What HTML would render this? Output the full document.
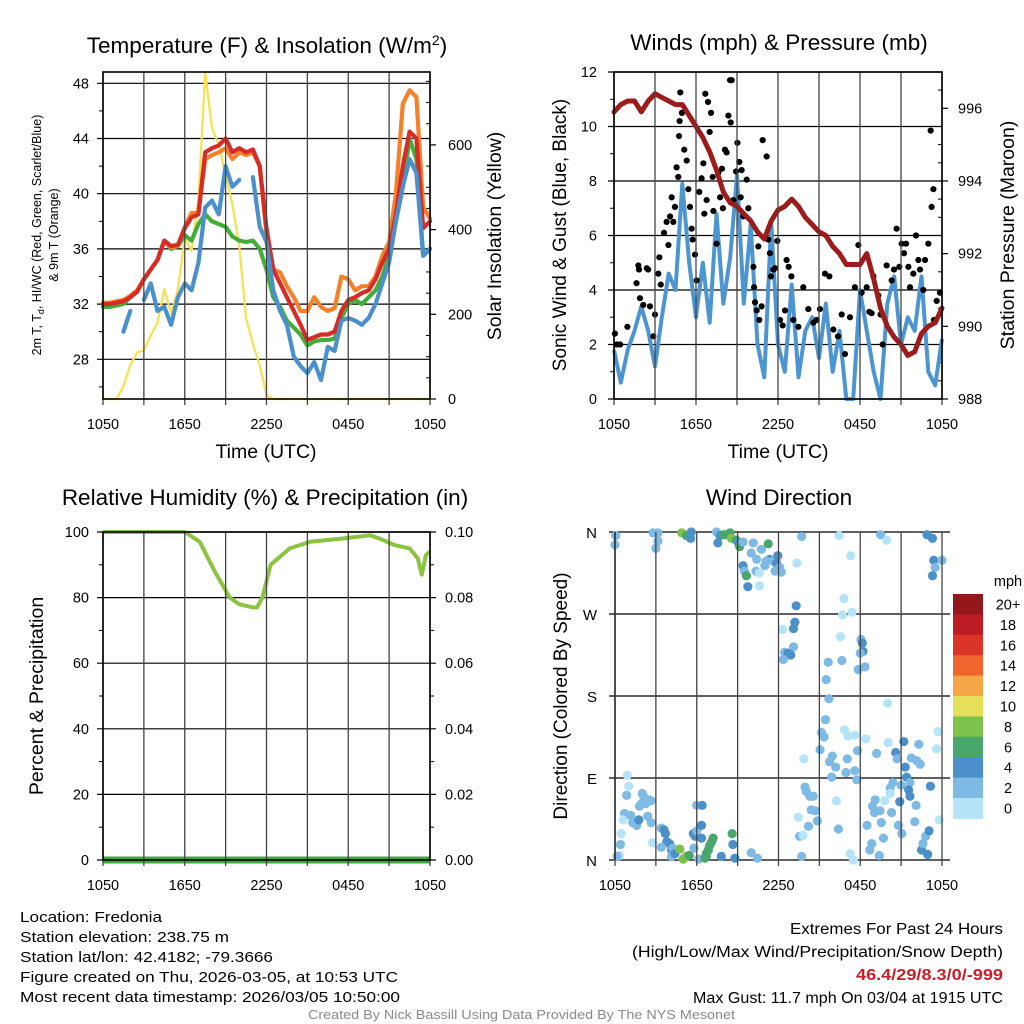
<!DOCTYPE html>
<html><head><meta charset="utf-8">
<style>
html,body{margin:0;padding:0;background:#fff;}
svg{display:block;font-family:"Liberation Sans",Arial,sans-serif;}
</style></head>
<body>
<svg id="chart" width="1024" height="1024" viewBox="0 0 1024 1024" xmlns="http://www.w3.org/2000/svg">
<rect width="1024" height="1024" fill="#fff"/>
</svg>
<script>
// ---------- DATA ----------
const hours = [0,0.5,1,1.5,2,2.5,3,3.5,4,4.5,5,5.5,6,6.5,7,7.5,8,8.5,9,9.5,10,10.5,11,11.5,12,12.5,13,13.5,14,14.5,15,15.5,16,16.5,17,17.5,18,18.5,19,19.5,20,20.5,21,21.5,22,22.5,23,23.5,24];
const timeTickLabels = ["1050","1650","2250","0450","1050"];
const tempT2m = [32,32,32.1,32.2,32.5,32.9,33.8,34.5,35.2,36.6,36.2,36.3,37.5,38.3,38.5,43,43.3,43.5,44,43,43.3,43,43.2,42,37.5,34.5,33.5,32.5,31.5,30.5,29.4,29.6,29.8,29.8,30,31.5,32.3,32.5,32.8,33,33.8,35,36,38.5,42,44.5,44,37.5,38];
const temp9m = [32.1,32.1,32.2,32.3,32.6,33,33.8,34.5,35.2,36.6,36.1,36.2,37.6,38.6,38.6,42.5,42.8,43,43.3,42.5,43,42.8,43,42,37,34.5,34.3,33.3,32.5,31.5,31.5,32.5,31.8,31.5,31.7,34,33.8,33,33.3,33.3,34,35.5,36.5,40,46.5,47.5,47,39,38.2];
const tempTd = [31.8,31.8,31.9,32,32.5,32.9,33.8,34.5,35.2,36.6,36,36.2,37,36.6,37.8,38.5,38,37.8,37.6,36.9,36.6,36.5,36.6,36,34.5,32.5,31.8,30.8,30.3,29.8,29,29.3,29.4,29.4,29.5,31,32,32.3,32,32.5,33,34,35.5,38,40.5,44,42.5,35.5,36];
const tempWC = [null,null,null,30,31.5,null,32.3,33.5,31.5,31.8,30.5,32.5,33.5,33,35,39,39.5,38.5,42,40.5,41,null,41.2,37.6,36.5,33,31.5,30.5,28.2,27.5,27,27.8,26.5,28.9,28.6,30.8,31,30.8,30.5,31,32,33.5,35,38,40.5,42.5,41.5,35.5,36];
const insolation = [0,0,0,30,80,110,115,150,180,260,200,260,380,350,470,770,640,600,530,460,360,190,130,80,10,0,0,0,0,0,0,0,0,0,0,0,0,0,0,0,0,0,0,0,0,0,0,0,0];
const windSpeed = [1.8,0.6,1.8,2.5,3.4,2.5,1.2,3.0,4.6,4.0,7.9,5.0,3.0,5.0,2.8,6.8,3.5,5.2,8.2,3.5,6.4,2.0,0.8,6.5,2.0,1.0,4.2,0.8,2.5,3.0,1.5,3.5,1.0,2.5,0.0,0.0,4.0,2.5,1.0,0.0,3.5,4.5,2.0,3.0,2.5,4.5,1.0,0.5,2.2];
const pressure = [995.9,996.1,996.2,996.2,995.9,996.2,996.4,996.3,996.2,996.1,996.1,995.8,995.5,995.2,994.8,994.3,993.7,993.4,993.3,993.1,992.9,992.6,992.4,992.9,993.2,993.3,993.5,993.3,993.0,992.8,992.6,992.5,992.2,992.0,991.7,991.7,991.7,992.0,991.3,990.5,990.0,989.7,989.5,989.2,989.3,989.8,990.0,990.1,990.5];
const rhHours = [0,5,6,7.1,8.2,9.3,10,11,11.3,11.7,12.3,13.7,15.2,17.5,19.6,20.3,21.4,22.5,23.1,23.4,23.7,24];
const rhValues = [100,100,100,97,88,80,78,77,77,80,90,95,97,98,99,98,96,95,92,87,93,94];
const precipValues = [0,0];
const gustHours = [0.07,0.2,0.45,0.98,1.65,1.83,1.9,1.78,2.4,2.63,2.5,2.14,2.88,3.0,3.24,3.32,3.42,3.66,3.85,3.98,4.1,4.22,4.34,4.46,4.58,4.7,4.76,4.8,4.85,4.97,5.14,5.32,5.44,5.56,5.68,5.75,5.93,6.05,6.24,6.41,6.54,6.61,6.68,6.78,6.88,7.0,7.1,7.22,7.27,7.51,7.63,7.76,7.9,7.97,8.12,8.24,8.37,8.49,8.54,8.61,8.73,8.93,9.03,9.17,9.27,9.34,9.46,9.71,9.83,10.2,10.25,10.32,10.44,10.56,10.63,10.8,10.88,11.17,11.29,11.41,11.49,11.66,11.78,11.95,12.15,12.34,12.51,12.63,12.78,12.98,13.12,13.49,13.85,14.22,14.59,14.83,15.07,15.44,15.76,16.05,16.39,16.66,16.9,17.27,17.63,17.88,18.12,18.49,18.68,18.85,18.98,19.34,19.51,19.66,19.95,20.32,20.49,20.68,20.88,21.05,21.22,21.37,21.54,21.66,21.9,22.1,22.27,22.39,22.63,22.76,23.0,23.17,23.24,23.37,23.41,23.61,23.85,23.98];
const gustValues = [2.4,2.0,2.0,2.65,4.25,4.75,3.7,4.9,4.8,3.4,4.75,3.45,2.3,3.1,4.6,5.2,4.2,6.1,6.5,5.65,6.7,7.4,6.5,7.05,8.5,8.15,9.65,10.2,11.25,10.5,9.15,8.75,7.7,7.05,6.25,5.85,5.3,4.35,7.6,8.1,8.65,6.8,11.2,7.3,10.9,9.8,10.5,8.15,6.9,5.7,8.3,7.4,8.45,7.0,9.15,9.05,10.4,11.7,10.15,11.7,7.3,8.35,9.4,8.7,7.4,8.4,6.7,8.05,7.0,4.85,4.1,3.55,3.25,5.6,2.9,3.4,9.5,8.9,5.85,5.35,4.5,4.75,4.8,5.8,2.9,2.7,3.25,5.1,4.85,4.5,2.9,2.65,4.1,3.3,2.8,2.9,3.3,4.6,4.5,2.55,2.3,3.1,1.65,3.0,4.1,5.65,3.9,4.1,3.2,3.15,4.5,3.8,3.1,2.0,4.9,4.35,4.75,6.25,4.85,5.7,5.35,5.7,4.85,4.1,4.6,6.0,5.1,4.75,4.0,5.1,5.7,9.85,7.05,7.7,2.9,3.6,3.9];
const dirHours = [0.05,0,2.8,3.15,3.15,3.0,4.9,5.25,5.55,5.6,7.45,7.55,7.7,7.95,8.2,8.45,8.55,8.9,9.05,9.15,9.4,10.15,10.0,10.4,10.75,11.25,11.35,11.6,11.95,11.85,11.0,11.1,12.1,11.75,12.2,9.4,9.5,9.65,9.75,10.35,10.6,10.6,13.35,13.7,16.45,17.3,19.5,19.95,22.9,23.3,23.4,23.5,23.3,24.0,
16.8,17.4,16.7,13.3,13.2,13.1,12.3,13.1,12.45,12.7,12.9,12.35,16.55,18.05,18.15,18.2,18.0,17.85,18.35,15.65,16.65,15.5,15.7,15.45,20.0,
16.85,17.1,17.6,18.4,15.15,15.35,15.05,15.95,15.75,16.2,15.9,17.05,16.95,17.6,17.75,17.8,19.2,20.05,20.6,20.7,21.2,21.3,21.4,21.65,21.75,22.15,22.4,22.3,23.7,23.6,23.15,13.85,16.25,20.2,20.4,21.0,21.55,21.65,20.9,20.2,19.8,22.1,19.1,18.9,19.05,19.45,20.3,19.55,18.5,20.8,21.05,22.0,23.8,19.7,18.85,18.7,19.4,22.5,22.6,22.8,23.05,22.95,17.25,17.5,16.4,13.95,14.05,14.3,14.55,14.4,14.7,14.85,14.2,13.55,13.45,13.8,13.7,10.0,10.45,
0.9,1.0,0.85,2.0,2.1,1.8,1.95,2.25,2.5,2.65,0.7,0.6,1.15,1.3,1.6,1.75,2.4,2.65,0.45,0.4,0.35,0.15,2.75,3.4,3.6,3.7,3.8,3.4,4.0,4.15,4.25,4.15,4.4,4.75,5.0,5.25,5.45,5.75,5.9,5.8,6.0,6.0,6.4,6.35,6.35,6.15,6.7,6.85,6.95,7.1,7.2,6.7,7.8,8.6,8.65,8.8,6.6];
const dirDegrees = [356,346,359,359,350,342,359,356,353,360,360,348,356,357,357,359,353,351,348,344,349,348,337,330,341,347,330,328,334,326,323,328,321,317,316,323,317,312,300,317,315,301,326,355,356,334,357,351,357,353,329,321,312,329,
287,272,269,279,261,254,253,234,228,227,225,220,245,242,238,229,227,209,212,217,219,198,177,154,172,
143,136,137,133,140,135,121,114,108,102,91,111,96,98,88,120,117,129,118,111,130,102,91,85,112,109,105,127,141,122,81,111,65,79,85,82,77,70,64,73,65,60,66,59,52,54,52,41,38,38,29,42,44,24,18,11,5,11,18,26,32,6,7,0,34,80,75,70,70,55,54,43,37,26,47,27,4,8,2,
93,81,71,73,70,59,62,62,66,65,51,44,49,41,38,44,48,41,29,17,5,4,19,35,33,29,20,14,18,11,13,4,7,12,1,4,5,29,26,13,32,60,60,38,24,1,4,11,16,20,24,7,4,29,17,2,2];
const dirSpeeds = [3,3,3,3,3,3,9,7,5,5,3,5,5,7,7,7,9,7,5,7,3,3,3,3,3,7,5,3,5,5,3,3,3,3,3,5,3,7,5,3,1,1,1,3,1,1,3,1,5,5,5,3,5,3,
1,1,1,5,5,5,1,3,3,5,5,3,1,3,5,5,3,3,3,3,3,3,3,3,1,
1,1,1,1,3,3,3,3,3,3,3,3,3,3,3,3,3,1,5,3,5,5,5,3,3,3,3,3,1,1,5,1,1,3,3,3,5,5,5,1,1,3,3,3,3,3,3,3,3,3,3,3,1,3,3,3,3,5,3,3,5,5,1,1,3,3,3,3,3,3,3,3,3,3,1,1,3,3,3,
1,1,3,3,3,3,3,3,3,3,3,1,3,3,3,5,3,3,1,3,1,3,1,3,5,5,5,3,5,5,3,3,5,9,9,9,7,5,5,3,3,3,5,5,5,3,7,7,7,7,7,7,5,7,5,5,7];
const speedLabels = ["0","2","4","6","8","10","12","14","16","18","20+"];
const speedColors = ["#b5e4f8","#7fbae4","#4b90c8","#49a66d","#7cc24b","#e6df5a","#f6a646","#f0642d","#dc3429","#be1c24","#93171b"];

// ---------- HELPERS ----------
const NS = "http://www.w3.org/2000/svg";
const svg = document.getElementById('chart');
function mk(tag, attrs, parent){
  const e = document.createElementNS(NS, tag);
  for (const k in attrs) e.setAttribute(k, attrs[k]);
  (parent||svg).appendChild(e);
  return e;
}
function txt(s, x, y, size, anchor, parent, extra){
  const t = mk('text', Object.assign({x:x, y:y, 'font-size':size, 'text-anchor':anchor||'middle', fill:'#000'}, extra||{}), parent);
  t.textContent = s;
  return t;
}
function linePath(xs, ys, xf, yf){
  let d = '', pen = false;
  for (let i=0;i<xs.length;i++){
    if (ys[i]===null || ys[i]===undefined){pen=false;continue;}
    d += (pen?'L':'M') + xf(xs[i]).toFixed(1) + ' ' + yf(ys[i]).toFixed(1);
    pen = true;
  }
  return d;
}

function panel(L, R, T, B){ return {L, R, T, B, x: h => L + (R-L)*h/24}; }
const p1 = panel(103, 430, 72, 399);
const p2 = panel(614, 942, 72, 399);
const p3 = panel(103, 430, 532, 860);
const p4 = panel(615, 942, 532, 860);

function timeAxis(p, labelY, name){
  const g = mk('g', {});
  
  
  for (let i=0;i<=8;i++){
    const x = p.L + (p.R-p.L)*i/8;
    mk('line', {x1:x, x2:x, y1:p.T, y2:p.B+6, stroke:'#444', 'stroke-width':1.3}, g);
  }
  timeTickLabels.forEach((s,i)=>{
    const t = txt(s, p.L + (p.R-p.L)*i/4, labelY, 14.5, 'middle', g);
    
    
  });
}
function frame(p, name){
  const r = mk('rect', {x:p.L, y:p.T, width:p.R-p.L, height:p.B-p.T, fill:'none', stroke:'#000', 'stroke-width':1.6});
  
  
}

// ---------- PANEL 1 ----------
{
  const tempY = v => 83.3 + (48 - v) * 13.8;
  const insY = v => 399 - v * 0.4235;
  const g = mk('g', {});
  
  
  [48,44,40,36,32,28].forEach(v=>{
    mk('line', {x1:p1.L-6, x2:p1.R, y1:tempY(v), y2:tempY(v), stroke:'#000', 'stroke-width':1.2}, g);
    const t = txt(String(v), p1.L-14, tempY(v)+5, 14.5, 'end', g);
    
    
  });
  [26,30,34,38,42,46].forEach(v=> mk('line', {x1:p1.L-4, x2:p1.L, y1:tempY(v), y2:tempY(v), stroke:'#000', 'stroke-width':1}, g));
  [0,200,400,600].forEach(v=>{
    mk('line', {x1:p1.R, x2:p1.R+6, y1:insY(v), y2:insY(v), stroke:'#000', 'stroke-width':1.2}, g);
    const t = txt(String(v), p1.R+18, insY(v)+5, 14.5, 'start', g);
    
    
  });
  for (let v=50; v<=750; v+=50){ if (v%200) mk('line', {x1:p1.R-4, x2:p1.R, y1:insY(v), y2:insY(v), stroke:'#000', 'stroke-width':1}, g); }
  timeAxis(p1, 429, 'temperature-x-axis');
  const series = [
    ['insolation-line', insolation, '#f8e04e', 2.2, insY],
    ['dewpoint-line', tempTd, '#44ad3a', 4.2, tempY],
    ['temp-9m-line', temp9m, '#f5822a', 4.2, tempY],
    ['temp-2m-line', tempT2m, '#d72b27', 4.2, tempY],
    ['windchill-line', tempWC, '#4a90cc', 4.2, tempY],
  ];
  series.forEach(s=>{
    const pth = mk('path', {d: linePath(hours, s[1], p1.x, s[4]), fill:'none', stroke:s[2], 'stroke-width':s[3], 'stroke-linejoin':'round', 'stroke-linecap':'round'}, g);
    
    
  });
  frame(p1, 'temperature-plot-frame');
  const ttl = txt('', 267, 53, 22.5, 'middle');
  ttl.innerHTML = 'Temperature (F) &amp; Insolation (W/m<tspan dy="-8" font-size="14">2</tspan><tspan dy="8">)</tspan>';
  
  
  const xt = txt('Time (UTC)', 266, 458, 19.5, 'middle');
  
  
  const yt = txt('', 0, 0, 12.5, 'middle', null, {transform:'translate(41,235) rotate(-90)'});
  yt.innerHTML = '2m T, T<tspan dy="3" font-size="9">d</tspan><tspan dy="-3">, HI/WC (Red, Green, Scarlet/Blue)</tspan>';
  
  
  const yt2 = txt('& 9m T (Orange)', 0, 0, 12.5, 'middle', null, {transform:'translate(58,235) rotate(-90)'});
  
  
  const rt = txt('Solar Insolation (Yellow)', 0, 0, 19.5, 'middle', null, {transform:'translate(501,236) rotate(-90)'});
  
  
}

// ---------- PANEL 2 ----------
{
  const wY = v => 399 - v * 27.25;
  const pY = v => 399 - (v - 988) * 36.34;
  const g = mk('g', {});
  
  
  [0,2,4,6,8,10,12].forEach(v=>{
    mk('line', {x1:p2.L-6, x2:p2.R, y1:wY(v), y2:wY(v), stroke:'#000', 'stroke-width':1.2}, g);
    const t = txt(String(v), p2.L-17, wY(v)+5, 14.5, 'end', g);
    
    
  });
  [1,3,5,7,9,11].forEach(v=> mk('line', {x1:p2.L-4, x2:p2.L, y1:wY(v), y2:wY(v), stroke:'#000', 'stroke-width':1}, g));
  [988,990,992,994,996].forEach(v=>{
    mk('line', {x1:p2.R, x2:p2.R+6, y1:pY(v), y2:pY(v), stroke:'#000', 'stroke-width':1.2}, g);
    const t = txt(String(v), p2.R+16, pY(v)+5, 14.5, 'start', g);
    
    
  });
  for (let v=988.5; v<997; v+=0.5){ if (v%2) mk('line', {x1:p2.R-4, x2:p2.R, y1:pY(v), y2:pY(v), stroke:'#000', 'stroke-width':1}, g); }
  timeAxis(p2, 429, 'winds-x-axis');
  const w = mk('path', {d: linePath(hours, windSpeed, p2.x, wY), fill:'none', stroke:'#4c95d0', 'stroke-width':4, 'stroke-linejoin':'round'}, g);
  
  
  const dots = mk('g', {}, g);
  
  
  gustHours.forEach((h,i)=>{
    if (gustValues[i]===undefined) return;
    const c = mk('circle', {cx:p2.x(h), cy:wY(gustValues[i]), r:3.1, fill:'#000'}, dots);
    
    
  });
  const pr = mk('path', {d: linePath(hours, pressure, p2.x, pY), fill:'none', stroke:'#9c1b1b', 'stroke-width':5, 'stroke-linejoin':'round', 'stroke-linecap':'round'}, g);
  
  
  frame(p2, 'winds-plot-frame');
  const ttl = txt('Winds (mph) & Pressure (mb)', 779, 50, 22.5, 'middle');
  
  
  const xt = txt('Time (UTC)', 778, 458, 19.5, 'middle');
  
  
  const yt = txt('Sonic Wind & Gust (Blue, Black)', 0, 0, 19, 'middle', null, {transform:'translate(566,235) rotate(-90)'});
  
  
  const rt = txt('Station Pressure (Maroon)', 0, 0, 19.5, 'middle', null, {transform:'translate(1014,235) rotate(-90)'});
  
  
}

// ---------- PANEL 3 ----------
{
  const rY = v => 860 - v * 3.28;
  const g = mk('g', {});
  
  
  [0,20,40,60,80,100].forEach((v,i)=>{
    mk('line', {x1:p3.L-6, x2:p3.R+6, y1:rY(v), y2:rY(v), stroke:'#000', 'stroke-width':1.2}, g);
    const t = txt(String(v), p3.L-14, rY(v)+5, 14.5, 'end', g);
    
    
    const t2 = txt((i*0.02).toFixed(2), p3.R+15, rY(v)+5, 14.5, 'start', g);
    
    
  });
  for (let v=10; v<100; v+=20){
    mk('line', {x1:p3.L-4, x2:p3.L, y1:rY(v), y2:rY(v), stroke:'#000', 'stroke-width':1}, g);
    mk('line', {x1:p3.R, x2:p3.R+4, y1:rY(v), y2:rY(v), stroke:'#000', 'stroke-width':1}, g);
  }
  timeAxis(p3, 890, 'humidity-x-axis');
  const pc = mk('path', {d: linePath([0,24], precipValues, p3.x, v => rY(v*1000)), fill:'none', stroke:'#3fa63a', 'stroke-width':7}, g);
  
  
  const rh = mk('path', {d: linePath(rhHours, rhValues, p3.x, rY), fill:'none', stroke:'#8cc342', 'stroke-width':4, 'stroke-linejoin':'round'}, g);
  
  
  frame(p3, 'humidity-plot-frame');
  const ttl = txt('Relative Humidity (%) & Precipitation (in)', 265, 505, 22.5, 'middle');
  
  
  const yt = txt('Percent & Precipitation', 0, 0, 19.5, 'middle', null, {transform:'translate(43,696) rotate(-90)'});
  
  
}

// ---------- PANEL 4 ----------
{
  const dY = v => 860 - v * (328/360);
  const g = mk('g', {});
  
  
  const dirLabels = ['N','E','S','W','N'];
  dirLabels.forEach((s,i)=>{
    const v = i*90;
    mk('line', {x1:p4.L-6, x2:p4.R+8, y1:dY(v), y2:dY(v), stroke:'#000', 'stroke-width':1.2}, g);
    const t = txt(s, p4.L-18, dY(v)+6, 15, 'end', g);
    
    
  });
  timeAxis(p4, 890, 'wind-direction-x-axis');
  const dots = mk('g', {}, g);
  
  
  dirHours.forEach((h,i)=>{
    if (dirDegrees[i]===undefined || dirSpeeds[i]===undefined) return;
    const bin = Math.min(10, Math.floor(dirSpeeds[i]/2));
    const c = mk('circle', {cx:p4.x(h), cy:dY(dirDegrees[i]), r:4.6, fill:speedColors[bin]}, dots);
    
    
  });
  const ax = mk('line', {x1:p4.L, x2:p4.L, y1:p4.T, y2:p4.B, stroke:'#000', 'stroke-width':1.6}, g);
  
  
  const cb = mk('g', {});
  
  
  const cbTop = 594, cbH = 20.4;
  for (let i=0;i<speedColors.length;i++){
    const idx = speedColors.length-1-i;
    const r = mk('rect', {x:953, y:cbTop+i*cbH, width:30, height:cbH+0.5, fill:speedColors[idx]}, cb);
    
    
    const t = txt(speedLabels[idx], 1008, cbTop+i*cbH+15.5, 14.5, 'middle', cb);
    
    
  }
  const u = txt('mph', 1008, 586, 14.5, 'middle', cb);
  
  
  const ttl = txt('Wind Direction', 779, 505, 22.5, 'middle');
  
  
  const yt = txt('Direction (Colored By Speed)', 0, 0, 19, 'middle', null, {transform:'translate(567,696) rotate(-90)'});
  
  
}

// ---------- FOOTER ----------
{
  const g = mk('g', {});
  
  
  const left = [
    ['Location: Fredonia', 142],
    ['Station elevation: 238.75 m', 209],
    ['Station lat/lon: 42.4182; -79.3666', 253],
    ['Figure created on Thu, 2026-03-05, at 10:53 UTC', 378],
    ['Most recent data timestamp: 2026/03/05 10:50:00', 380],
  ];
  left.forEach((l,i)=>{
    const t = txt(l[0], 20, 922+i*20, 15, 'start', g, {textLength:l[1], lengthAdjust:'spacingAndGlyphs'});
    
    
  });
  const g2 = mk('g', {});
  
  
  const right = [
    ['Extremes For Past 24 Hours', 213, 934, '#000', 'normal'],
    ['(High/Low/Max Wind/Precipitation/Snow Depth)', 371, 957, '#000', 'normal'],
    ['46.4/29/8.3/0/-999', 147, 980, '#c8202a', 'bold'],
    ['Max Gust: 11.7 mph On 03/04 at 1915 UTC', 310, 1003, '#000', 'normal'],
  ];
  right.forEach(r=>{
    const t = txt(r[0], 1003, r[2], 15.5, 'end', g2, {textLength:r[1], lengthAdjust:'spacingAndGlyphs', fill:r[3], 'font-weight':r[4]});
    
    
  });
  const cr = txt('Created By Nick Bassill Using Data Provided By The NYS Mesonet', 308, 1019, 12.5, 'start', null, {textLength:427, lengthAdjust:'spacingAndGlyphs', fill:'#8a8a8a'});
  
  
}
</script>
</body></html>
